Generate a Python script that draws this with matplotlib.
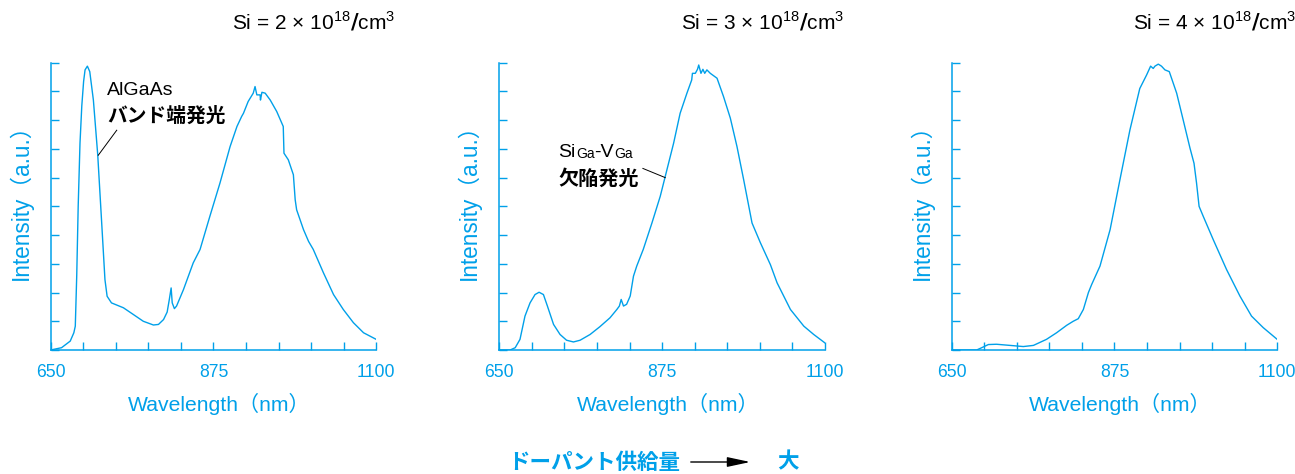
import matplotlib
matplotlib.use("Agg")
import matplotlib.pyplot as plt
import numpy as np

plt.rcParams['font.family'] = ['Liberation Sans', 'Noto Sans CJK JP', 'DejaVu Sans']
plt.rcParams['mathtext.fontset'] = 'custom'
plt.rcParams['mathtext.rm'] = 'Liberation Sans'

CYAN = '#00a0e9'
JP = ['Noto Sans CJK JP', 'DejaVu Sans']

# --- data (wavelength nm, intensity in tick units 0..10) ---
wl1 = [650, 665, 677, 682, 684, 686, 688, 690.5, 693, 695.5, 697.5, 700.7, 704, 709, 715,
       720.5, 725, 728, 734, 750.5, 764, 778, 792, 799, 806, 811, 814, 816.5, 818, 821,
       824, 833.5, 847, 856.5, 870, 884, 898, 907.5, 914, 916.5, 923, 930, 932.5, 935,
       939.5, 940, 942, 946.5, 953.5, 962.5, 971.5, 972.5, 978.5, 985.5, 988, 990, 999.5,
       1006.5, 1013, 1027, 1041, 1054.5, 1068.5, 1082.5, 1100]
int1 = [0, 0.08, 0.31, 0.6, 0.83, 2.6, 5.0, 7.2, 8.5, 9.35, 9.75, 9.88, 9.69, 8.7, 6.8,
        4.42, 2.45, 1.87, 1.64, 1.47, 1.24, 1.0, 0.87, 0.89, 1.06, 1.32, 1.76, 2.16, 1.64,
        1.44, 1.53, 2.1, 3.03, 3.5, 4.65, 5.81, 7.08, 7.78, 8.13, 8.24, 8.65, 8.94, 9.17,
        8.88, 8.88, 8.7, 8.97, 8.94, 8.7, 8.3, 7.78, 6.85, 6.62, 6.1, 5.23, 4.88, 4.19,
        3.78, 3.5, 2.69, 1.93, 1.41, 0.95, 0.6, 0.37]

wl2 = [650, 665, 672, 678.6, 685.5, 692.5, 699.4, 705, 711, 716.5, 725, 734, 743, 752.5,
       761.7, 775.5, 789, 803, 812.5, 816, 818.5, 821.7, 826, 831, 835.5, 840, 849, 861,
       872.5, 881.7, 891, 900, 909.4, 916, 917, 921, 924, 925.7, 928.8, 931.5, 934, 937,
       941.7, 951, 960, 969.4, 978.6, 987.8, 999.4, 1011, 1024.8, 1034, 1052.5, 1071,
       1084.7, 1100]
int2 = [0, 0, 0.08, 0.37, 1.18, 1.64, 1.93, 2.01, 1.93, 1.53, 0.89, 0.54, 0.34, 0.28,
        0.34, 0.54, 0.81, 1.12, 1.41, 1.53, 1.76, 1.53, 1.59, 1.88, 2.57, 2.92, 3.5, 4.42,
        5.35, 6.27, 7.2, 8.24, 8.94, 9.4, 9.63, 9.63, 9.77, 9.92, 9.63, 9.77, 9.63, 9.75,
        9.63, 9.46, 8.82, 8.07, 7.08, 5.93, 4.42, 3.73, 2.97, 2.34, 1.41, 0.83,
        0.54, 0.25]

wl3 = [650, 684.5, 691.5, 700.7, 712, 730.6, 749, 763, 781, 795, 809, 818, 825, 832, 839,
       843.5, 855, 869, 882.6, 896.4, 910, 919.4, 925, 928.6, 931, 935.6, 940, 944.8,
       950.8, 961, 970, 979.4, 985, 988.5, 992, 997.8, 1011.6, 1030, 1048.4, 1064.5,
       1080.6, 1100]
int3 = [0, 0, 0.08, 0.19, 0.2, 0.16, 0.12, 0.16, 0.37, 0.6, 0.86, 1.0, 1.09, 1.41, 2.0,
        2.28, 2.92, 4.19, 5.93, 7.66, 9.1, 9.57, 9.88, 9.8, 9.88, 9.95, 9.88, 9.75,
        9.69, 8.94, 8.01, 7.03, 6.5, 5.81, 5.0, 4.65, 3.84, 2.8, 1.88, 1.18,
        0.78, 0.37]

titles = ['2', '3', '4']
xtick_labels = ['650', '875', '1100']

W, H = 1295, 474
fig = plt.figure(figsize=(W / 100, H / 100), dpi=100)

lefts = [50.7, 499.3, 951.7]
ax_w, top_px, bot_px = 325.5, 62.7, 350

axes = []
for i, (wl, it) in enumerate([(wl1, int1), (wl2, int2), (wl3, int3)]):
    ax = fig.add_axes([lefts[i] / W, 1 - bot_px / H, ax_w / W, (bot_px - top_px) / H])
    axes.append(ax)
    ax.plot(wl, it, color=CYAN, lw=1.0)
    ax.set_xlim(650, 1100)
    ax.set_ylim(0, 10)
    for s in ['top', 'right']:
        ax.spines[s].set_visible(False)
    for s in ['left', 'bottom']:
        ax.spines[s].set_color(CYAN)
        ax.spines[s].set_linewidth(1.1)
    ax.set_xticks(np.arange(650, 1101, 45))
    ax.set_xticklabels([xtick_labels[0]] + [''] * 4 + [xtick_labels[1]] + [''] * 4 + [xtick_labels[2]])
    ax.set_yticks(np.arange(0, 11, 1))
    ax.set_yticklabels([])
    ax.tick_params(direction='in', length=6, width=1.0, color=CYAN, labelcolor=CYAN,
                   labelsize=12.7, pad=10)
    ax.set_xlabel('Wavelength（nm）', color=CYAN, fontsize=15.2)
    ax.xaxis.set_label_coords(0.518, -0.188)
    ax.xaxis.label.set_va('center')
    ax.set_ylabel('Intensity（a.u.）', color=CYAN, fontsize=16.3)
    ax.yaxis.set_label_coords(-0.093, 0.535)
    ax.yaxis.label.set_va('center')
    ax.text(1.058, 1.142, 'Si = %s × 10$^{18}$$\\mathbf{/}$cm$^{3}$' % titles[i],
            transform=ax.transAxes, ha='right', va='center', fontsize=15, color='black')

# annotations
ax = axes[0]
ax.text(727.9, 9.04, 'AlGaAs', fontsize=14, ha='left', va='center')
ax.text(727.9, 8.14, 'バンド端発光', fontsize=14.2, fontweight='bold', family=JP,
        ha='left', va='center')
ax.plot([741.3, 715.8], [7.65, 6.78], color='black', lw=0.7)

ax = axes[1]
t1 = ax.text(731.7, 6.88, 'Si', fontsize=14, ha='left', va='center')
t2 = ax.annotate('Ga', xy=(1, 0), xycoords=t1, fontsize=10, ha='left', va='bottom')
t3 = ax.annotate('-V', xy=(1, 0), xycoords=t2, fontsize=14, ha='left', va='bottom')
ax.annotate('Ga', xy=(1, 0), xycoords=t3, fontsize=10, ha='left', va='bottom')
ax.text(731.7, 5.97, '欠陥発光', fontsize=14.5, fontweight='bold', family=JP,
        ha='left', va='center')
ax.plot([848.5, 879.4], [6.32, 6.0], color='black', lw=0.7)

# bottom caption
cap_y = 1 - 462 / H
fig.text(508 / W, cap_y, 'ドーパント供給量', family=JP, fontsize=15.5,
         fontweight='bold', color=CYAN, ha='left', va='center')
fig.text(777 / W, cap_y, '大', family=JP, fontsize=15.5,
         fontweight='bold', color=CYAN, ha='left', va='center')
fig.add_artist(matplotlib.patches.FancyArrowPatch(
    (688 / W, cap_y), (753 / W, cap_y), transform=fig.transFigure,
    arrowstyle='-|>,head_length=14,head_width=3', mutation_scale=1,
    color='black', lw=1.0))

fig.savefig('out.png', dpi=100)
